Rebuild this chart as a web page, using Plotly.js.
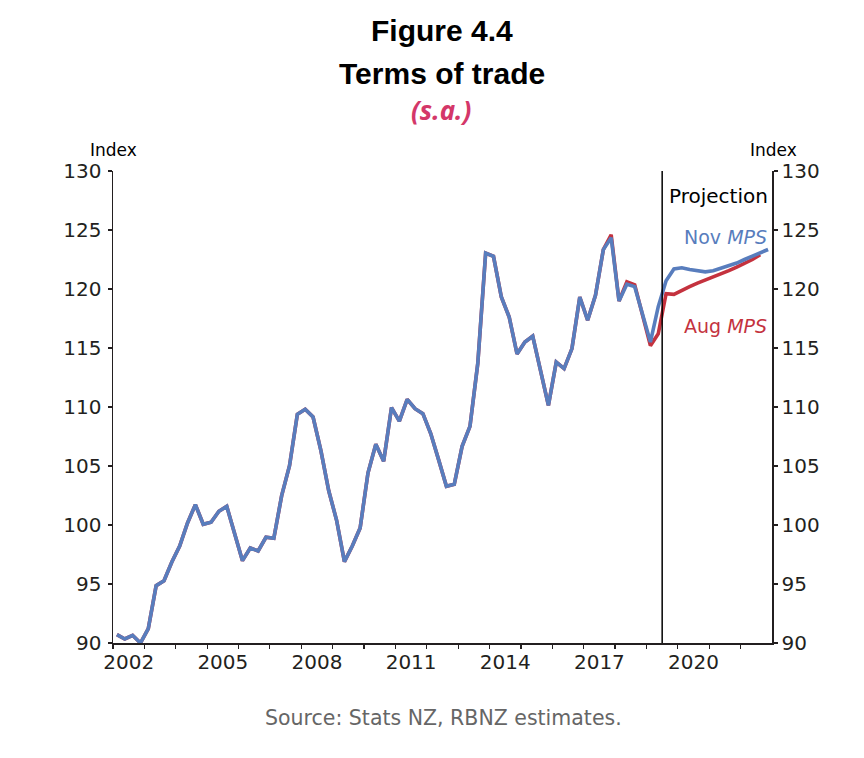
<!DOCTYPE html>
<html>
<head>
<meta charset="utf-8">
<script src="https://cdn.plot.ly/plotly-3.0.1.min.js"></script>
<style>
  html, body { margin: 0; padding: 0; background: #fff; }
  #chart { width: 864px; height: 758px; }
</style>
</head>
<body>
<div id="chart"></div>
<script>
// Quarterly data, starting 2002 Q1
const startYear = 2002;
const novMPS = [
  90.71, 90.34, 90.65, 90.00, 91.22, 94.86, 95.28, 96.86,
  98.22, 100.17, 101.73, 100.06, 100.23, 101.16, 101.58, 99.18,
  96.98, 98.05, 97.80, 98.96, 98.87, 102.49, 105.03, 109.38,
  109.81, 109.15, 106.30, 102.90, 100.40, 96.90, 98.22, 99.75,
  104.40, 106.84, 105.40, 109.95, 108.81, 110.65, 109.86, 109.44,
  107.75, 105.54, 103.28, 103.45, 106.67, 108.36, 113.70, 123.05,
  122.77, 119.32, 117.63, 114.50, 115.50, 116.00, 113.10, 110.14,
  113.80, 113.25, 114.95, 119.32, 117.35, 119.46, 123.34, 124.35,
  118.98, 120.40, 120.20, 117.90, 115.50, 118.50, 120.70, 121.70,
  121.80, 121.65, 121.55, 121.45, 121.55, 121.75, 121.95, 122.20,
  122.50, 122.80, 123.05, 123.35
];
const augMPS = [
  90.71, 90.34, 90.65, 90.00, 91.22, 94.86, 95.28, 96.86,
  98.22, 100.17, 101.73, 100.06, 100.23, 101.16, 101.58, 99.18,
  96.98, 98.05, 97.80, 98.96, 98.87, 102.49, 105.03, 109.38,
  109.81, 109.15, 106.30, 102.90, 100.40, 96.90, 98.22, 99.75,
  104.40, 106.84, 105.40, 109.95, 108.81, 110.65, 109.86, 109.44,
  107.75, 105.54, 103.28, 103.45, 106.67, 108.36, 113.70, 123.05,
  122.77, 119.32, 117.63, 114.50, 115.50, 116.00, 113.10, 110.14,
  113.80, 113.25, 114.95, 119.32, 117.35, 119.46, 123.34, 124.60,
  118.98, 120.60, 120.35, 117.90, 115.20, 116.20, 119.60, 119.55,
  119.90, 120.20, 120.50, 120.75, 121.00, 121.25, 121.55, 121.85,
  122.15, 122.50, 122.90
];
const projectionStart = 2019.5;
const yearTicks = [2002,2003,2004,2005,2006,2007,2008,2009,2010,2011,2012,2013,2014,2015,2016,2017,2018,2019,2020,2021,2022];
const labelYears = [2002, 2005, 2008, 2011, 2014, 2017, 2020];
const labelText = ["2002", "2005", "2008", "2011", "2014", "2017", "2020"];
const yTicks = [90, 95, 100, 105, 110, 115, 120, 125, 130];

function qx(arr) { return arr.map((_, i) => startYear + (i + 0.5) / 4); }

// pixel -> paper helpers for text placement
const L = 113, R = 772, T = 171, B = 643;
const px = x => (x - L) / (R - L);
const py = y => (B - y) / (B - T);

const blue = 'rgb(88,125,189)';
const red = 'rgb(196,50,62)';
const axisColor = '#231f20';
const fontFam = '"DejaVu Sans", "Liberation Sans", Arial, sans-serif';
const titleFam = '"Liberation Sans", Arial, Helvetica, sans-serif';

const traces = [
  { x: qx(augMPS), y: augMPS, type: 'scatter', mode: 'lines', name: 'Aug MPS',
    line: { color: red, width: 3.6 }, xaxis: 'x', yaxis: 'y', hoverinfo: 'skip' },
  { x: qx(novMPS), y: novMPS, type: 'scatter', mode: 'lines', name: 'Nov MPS',
    line: { color: blue, width: 3.6 }, xaxis: 'x', yaxis: 'y2', hoverinfo: 'skip' }
];

const yCommon = {
  range: [90, 130], tickvals: yTicks,
  ticks: 'outside', ticklen: 4, tickwidth: 1.2, tickcolor: axisColor,
  showline: true, linecolor: axisColor, linewidth: 1.5,
  showgrid: false, zeroline: false,
  tickfont: { family: fontFam, size: 20, color: axisColor }
};

const layout = {
  width: 864, height: 758,
  margin: { l: L, r: 864 - R, t: T, b: 758 - B },
  paper_bgcolor: '#fff', plot_bgcolor: '#fff',
  showlegend: false,
  xaxis: {
    range: [2002, 2023],
    tickvals: labelYears.map(y => y + 0.5), ticktext: labelText,
    ticks: '', ticklen: 0,
    minor: { tickvals: yearTicks, ticks: 'outside', ticklen: 4, tickwidth: 1.2, tickcolor: axisColor, showgrid: false },
    showline: true, linecolor: axisColor, linewidth: 1.5,
    showgrid: false, zeroline: false,
    tickfont: { family: fontFam, size: 20, color: axisColor }
  },
  yaxis: Object.assign({}, yCommon, { side: 'left', ticklabelstandoff: 2 }),
  yaxis2: Object.assign({}, yCommon, { side: 'right', overlaying: 'y' }),
  shapes: [
    { type: 'line', xref: 'x', yref: 'paper', x0: projectionStart, x1: projectionStart, y0: 0, y1: 1,
      line: { color: '#000', width: 1.5 } }
  ],
  annotations: [
    { text: '<b>Figure 4.4</b>', xref: 'paper', yref: 'paper', x: px(442), y: py(31),
      showarrow: false, xanchor: 'center', yanchor: 'middle',
      font: { family: titleFam, size: 30, color: '#000' } },
    { text: '<b>Terms of trade</b>', xref: 'paper', yref: 'paper', x: px(442), y: py(73),
      showarrow: false, xanchor: 'center', yanchor: 'middle',
      font: { family: titleFam, size: 30, color: '#000' } },
    { text: '<b><i>(s.a.)</i></b>', xref: 'paper', yref: 'paper', x: px(441), y: py(110),
      showarrow: false, xanchor: 'center', yanchor: 'middle',
      font: { family: '"Noto Sans", "DejaVu Sans", sans-serif', size: 26, color: 'rgb(212,55,105)' } },
    { text: 'Index', xref: 'paper', yref: 'paper', x: px(113), y: py(150),
      showarrow: false, xanchor: 'center', yanchor: 'middle',
      font: { family: fontFam, size: 17, color: '#000' } },
    { text: 'Index', xref: 'paper', yref: 'paper', x: px(773), y: py(150),
      showarrow: false, xanchor: 'center', yanchor: 'middle',
      font: { family: fontFam, size: 17, color: '#000' } },
    { text: 'Projection', xref: 'paper', yref: 'paper', x: px(667), y: py(196),
      showarrow: false, xanchor: 'left', yanchor: 'middle',
      font: { family: fontFam, size: 20, color: '#000' } },
    { text: 'Nov <i>MPS</i>', xref: 'paper', yref: 'paper', x: px(769), y: py(237),
      showarrow: false, xanchor: 'right', yanchor: 'middle',
      font: { family: fontFam, size: 19, color: blue } },
    { text: 'Aug <i>MPS</i>', xref: 'paper', yref: 'paper', x: px(769), y: py(326),
      showarrow: false, xanchor: 'right', yanchor: 'middle',
      font: { family: fontFam, size: 19, color: red } },
    { text: 'Source: Stats NZ, RBNZ estimates.', xref: 'paper', yref: 'paper', x: px(443), y: py(718),
      showarrow: false, xanchor: 'center', yanchor: 'middle',
      font: { family: fontFam, size: 20.5, color: '#666' } }
  ]
};

Plotly.newPlot('chart', traces, layout, { staticPlot: true, displayModeBar: false });
</script>
</body>
</html>
